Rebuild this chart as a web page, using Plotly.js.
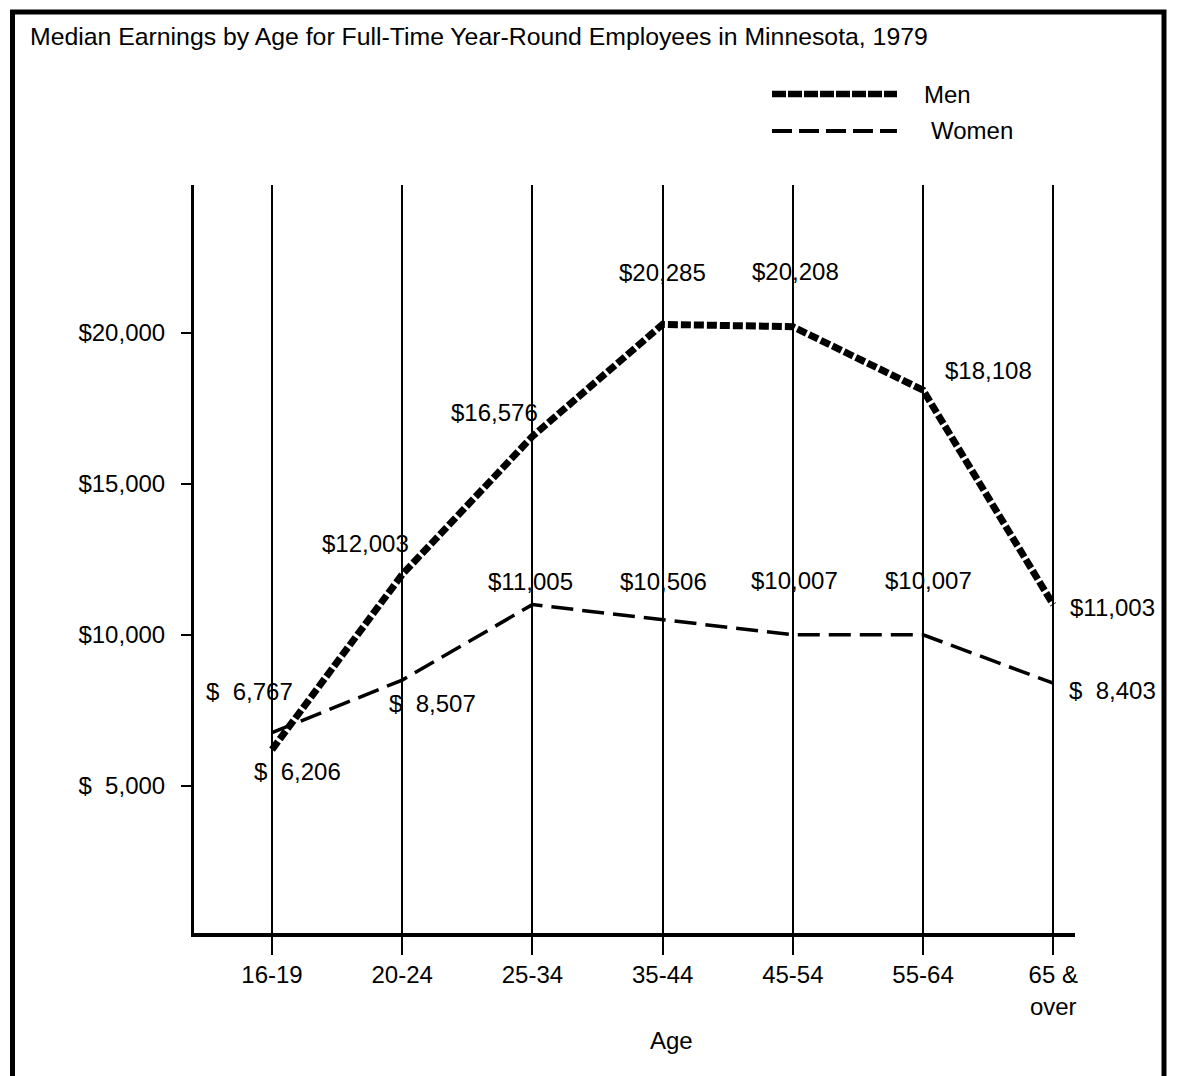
<!DOCTYPE html>
<html>
<head>
<meta charset="utf-8">
<script src="https://cdn.plot.ly/plotly-3.0.1.min.js"></script>
<style>html,body{margin:0;padding:0;background:#fff;}#chart{width:1180px;height:1076px;}</style>
</head>
<body>
<div id="chart"></div>
<script>
// ---- data ----
const categories = ['16-19', '20-24', '25-34', '35-44', '45-54', '55-64', '65 & over'];
const tickLabels = ['16-19', '20-24', '25-34', '35-44', '45-54', '55-64', '65 &<br>over'];
const men   = [6206, 12003, 16576, 20285, 20208, 18108, 11003];
const women = [6767, 8507, 11005, 10506, 10007, 10007, 8403];
const yTickVals = [5000, 10000, 15000, 20000];
const seriesNames = ['Men', 'Women'];

// ---- label placement (pixel offsets from each point) ----
const menLabelShift   = [[25, -22], [-37, 31], [-38, 24], [0, 52], [3, 55], [65, 20], [59, -3]];
const womenLabelShift = [[-23, 41], [30, -23], [-2, 23], [1, 38], [2, 54], [5, 54], [59, -7]];

function fmt(v) {
  const s = String(v).replace(/\B(?=(\d{3})+(?!\d))/g, ',');
  return v >= 10000 ? '$' + s : '$\u00a0\u00a0' + s;
}

const FONT = '"Liberation Sans", Arial, Helvetica, sans-serif';
const FS = 24;

const traces = [
  {x: categories, y: men, name: seriesNames[0], type: 'scatter', mode: 'lines',
   line: {color: '#000', width: 7, dash: '10px,3px'}},
  {x: categories, y: women, name: seriesNames[1], type: 'scatter', mode: 'lines',
   line: {color: '#000', width: 3.5, dash: '22px,9px'}}
];

const annotations = [];
men.forEach((v, i) => annotations.push({
  x: categories[i], y: v, xref: 'x', yref: 'y', text: fmt(v), showarrow: false,
  xshift: menLabelShift[i][0], yshift: menLabelShift[i][1], font: {size: FS, color: '#000'}
}));
women.forEach((v, i) => annotations.push({
  x: categories[i], y: v, xref: 'x', yref: 'y', text: fmt(v), showarrow: false,
  xshift: womenLabelShift[i][0], yshift: womenLabelShift[i][1], font: {size: FS, color: '#000'}
}));

// plot-area pixel frame: x 194..1075, y 185..933
const L = 194, R = 1075, T = 185, B = 933;
const px = p => (p - L) / (R - L);
const py = p => (B - p) / (B - T);

// legend text
annotations.push({xref: 'paper', yref: 'paper', x: px(922), y: py(94), xanchor: 'left', yanchor: 'middle',
  text: seriesNames[0], showarrow: false, font: {size: FS, color: '#000'}});
annotations.push({xref: 'paper', yref: 'paper', x: px(929), y: py(131), xanchor: 'left', yanchor: 'middle',
  text: seriesNames[1], showarrow: false, font: {size: FS, color: '#000'}});
// x axis title
annotations.push({xref: 'paper', yref: 'paper', x: px(671), y: py(1040), xanchor: 'center', yanchor: 'middle',
  text: 'Age', showarrow: false, font: {size: FS, color: '#000'}});

const shapes = [
  // legend samples
  {type: 'line', xref: 'paper', yref: 'paper', x0: px(772), x1: px(897), y0: py(94), y1: py(94),
   line: {color: '#000', width: 6.5, dash: '14px,2px'}},
  {type: 'line', xref: 'paper', yref: 'paper', x0: px(772), x1: px(897), y0: py(131), y1: py(131),
   line: {color: '#000', width: 4, dash: '20px,7px'}},
  // outer frame
  {type: 'rect', xref: 'paper', yref: 'paper', x0: px(12.5), x1: px(1164), y0: py(1100), y1: py(12),
   line: {color: '#000', width: 5}, fillcolor: 'rgba(0,0,0,0)', layer: 'above'}
];

const layout = {
  width: 1180, height: 1076,
  margin: {l: L, r: 1180 - R, t: T, b: 1076 - B, pad: 0},
  paper_bgcolor: '#fff', plot_bgcolor: '#fff',
  showlegend: false,
  font: {family: FONT, size: FS, color: '#000'},
  title: {text: 'Median Earnings by Age for Full-Time Year-Round Employees in Minnesota, 1979',
    x: 30 / 1180, xref: 'container', xanchor: 'left', y: 1 - 36 / 1076, yref: 'container', yanchor: 'middle',
    font: {family: FONT, size: 24.8, color: '#000'}},
  xaxis: {
    type: 'category', range: [-0.599, 6.167],
    tickvals: categories, ticktext: tickLabels,
    showline: true, linecolor: '#000', linewidth: 3.5,
    showgrid: true, gridcolor: '#000', gridwidth: 2,
    ticks: 'outside', ticklen: 18, tickwidth: 2, tickcolor: '#000',
    tickfont: {size: FS, color: '#000'}, zeroline: false, fixedrange: true
  },
  yaxis: {
    range: [132, 24900],
    tickvals: yTickVals, ticktext: yTickVals.map(fmt),
    showline: true, linecolor: '#000', linewidth: 3,
    showgrid: false, zeroline: false,
    ticks: 'outside', ticklen: 10, tickwidth: 2, tickcolor: '#000',
    ticklabelstandoff: 11,
    tickfont: {size: FS, color: '#000'}, fixedrange: true
  },
  annotations: annotations,
  shapes: shapes
};

Plotly.newPlot('chart', traces, layout, {displayModeBar: false, staticPlot: true});
</script>
</body>
</html>
